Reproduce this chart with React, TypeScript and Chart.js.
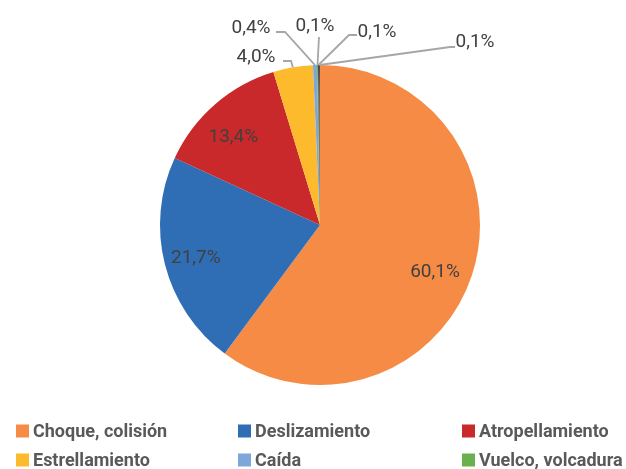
import React, { useEffect, useRef } from "react";
import { Chart, registerables } from "chart.js";

Chart.register(...registerables);

const categories = [
  "Choque, colisión",
  "Deslizamiento",
  "Atropellamiento",
  "Estrellamiento",
  "Caída",
  "Vuelco, volcadura",
  "Incendio",
  "Otros",
];
const shares = [60.1, 21.7, 13.4, 4.0, 0.4, 0.1, 0.1, 0.1];
const sliceColors = [
  "#F58B45",
  "#2F6EB5",
  "#C9292A",
  "#FDBA2C",
  "#7DA7D9",
  "#6AB04F",
  "#1F4E79",
  "#843C0C",
];

// inside labels: slice index, fraction of radius, angular nudge (degrees)
const insideLabels = [
  { index: 0, r: 0.772, nudge: 3.1 },
  { index: 1, r: 0.8, nudge: 0.3 },
  { index: 2, r: 0.78, nudge: -2.9 },
];
// outside labels: offset of label centre from pie centre, and elbow points of leader line
const outsideLabels = [
  { index: 3, label: [-64, -170], leader: [[-37, -164], [-29, -164]] },
  { index: 4, label: [-69, -199], leader: [[-44, -193], [-35, -193]] },
  { index: 5, label: [-5, -201], leader: [[-1, -188]] },
  { index: 6, label: [57, -195], leader: [[37, -190], [29, -190]] },
  { index: 7, label: [155, -185], leader: [[135, -178], [130, -178]] },
];

const legendCols = [16, 238, 462];
const legendRows = [431, 460, 489];

const fmt = (v: number) => v.toFixed(1).replace(".", ",") + "%";

const labelPlugin = {
  id: "customLabels",
  afterDraw(chart: any) {
    const ctx = chart.ctx;
    const meta = chart.getDatasetMeta(0);
    const data = chart.data.datasets[0].data as number[];
    ctx.save();
    ctx.font = "19px Roboto";
    ctx.fillStyle = "#404040";
    ctx.textAlign = "center";
    ctx.textBaseline = "alphabetic";
    const half = 7; // half digit height, to centre text on a point
    insideLabels.forEach((l) => {
      const arc = meta.data[l.index] as any;
      const p = arc.getProps(["x", "y", "startAngle", "endAngle", "outerRadius"], true);
      const mid = (p.startAngle + p.endAngle) / 2 + (l.nudge * Math.PI) / 180;
      const r = p.outerRadius * l.r;
      ctx.fillText(fmt(data[l.index]), p.x + r * Math.cos(mid), p.y + r * Math.sin(mid) + half);
    });
    outsideLabels.forEach((o) => {
      const arc = meta.data[o.index] as any;
      const p = arc.getProps(["x", "y", "startAngle", "endAngle", "outerRadius"], true);
      const mid = (p.startAngle + p.endAngle) / 2;
      const ex = p.x + p.outerRadius * Math.cos(mid);
      const ey = p.y + p.outerRadius * Math.sin(mid);
      ctx.strokeStyle = "#A6A6A6";
      ctx.lineWidth = 1.8;
      ctx.beginPath();
      o.leader.forEach((pt, k) => {
        if (k === 0) ctx.moveTo(p.x + pt[0], p.y + pt[1]);
        else ctx.lineTo(p.x + pt[0], p.y + pt[1]);
      });
      ctx.lineTo(ex, ey);
      ctx.stroke();
      ctx.fillText(fmt(data[o.index]), p.x + o.label[0], p.y + o.label[1] + half);
    });
    // legend
    ctx.font = "bold 18px Roboto";
    ctx.textAlign = "left";
    ctx.textBaseline = "middle";
    categories.forEach((c, i) => {
      const x = legendCols[i % 3];
      const y = legendRows[Math.floor(i / 3)];
      ctx.fillStyle = sliceColors[i];
      ctx.fillRect(x, y - 6.5, 13, 13);
      ctx.fillStyle = "#595959";
      ctx.fillText(c, x + 17, y + 1);
    });
    ctx.restore();
  },
};

export default function App() {
  const ref = useRef<HTMLCanvasElement>(null);
  useEffect(() => {
    const chart = new Chart(ref.current!, {
      type: "pie",
      data: {
        labels: categories,
        datasets: [
          {
            data: shares,
            backgroundColor: sliceColors,
            borderWidth: 0,
          },
        ],
      },
      options: {
        responsive: false,
        animation: false,
        layout: { padding: { left: 160, right: 146, top: 65, bottom: 84 } },
        plugins: {
          legend: { display: false },
          tooltip: { enabled: false },
          title: { display: false },
        },
      },
      plugins: [labelPlugin],
    });
    return () => chart.destroy();
  }, []);
  return (
    <div style={{ position: "fixed", left: 0, top: 0, width: 626, height: 469, background: "#fff" }}>
      <canvas ref={ref} width={626} height={469} style={{ display: "block" }} />
    </div>
  );
}
